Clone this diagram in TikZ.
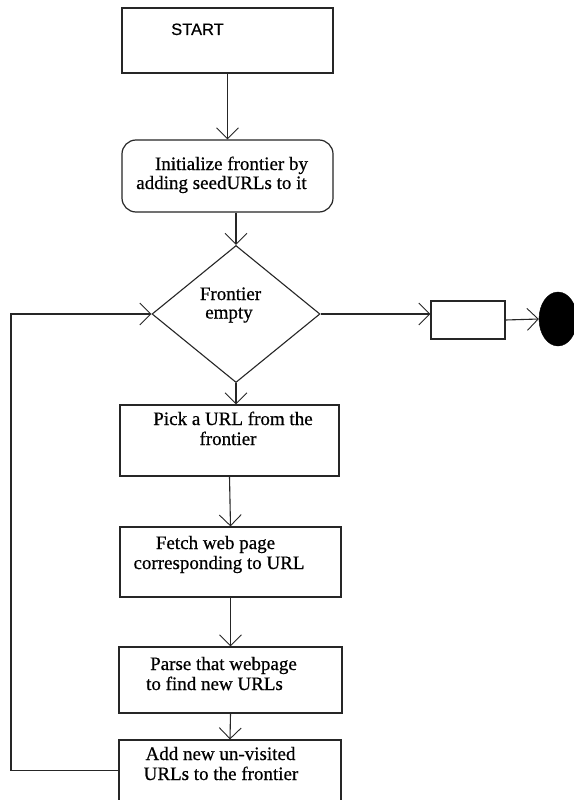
\documentclass[tikz,border=0pt]{standalone}
\usepackage{fontspec}
\setmainfont{Liberation Serif}
\newfontfamily\lblfont{Liberation Serif}[FakeBold=0.6]
\newfontfamily\arialfont{Liberation Sans}[FakeBold=0.5]
\usetikzlibrary{arrows.meta,shapes.geometric,calc}
\begin{document}
\begin{tikzpicture}[x=1pt,y=-1pt,
  box/.style={draw=black!85,line width=1.2pt,rectangle,inner sep=0pt},
  lbl/.style={inner sep=0pt,anchor=base,font=\lblfont\fontsize{19}{20}\selectfont},
  arr/.style={draw=black!85,line width=1.1pt,-{Straight Barb[length=11pt,width=22pt,line width=0.9pt]}},
  ln/.style={draw=black!85,line width=1.1pt}]
\useasboundingbox[fill=white] (0,0) rectangle (573,800);

% shapes
\node[box,minimum width=211pt,minimum height=65pt] (start) at (227.5,40.5) {};
\node[box,rounded corners=14pt,minimum width=211pt,minimum height=72pt] (init) at (227.5,176) {};
\node[draw=black!85,line width=1.1pt,diamond,inner sep=0pt,minimum width=168pt,minimum height=137pt] (dia) at (236,314) {};
\node[box,minimum width=74pt,minimum height=38pt] (stop) at (468,320) {};
\node[ellipse,fill=black,draw=black,inner sep=0pt,minimum width=38pt,minimum height=54pt] (term) at (558,319) {};
\node[box,minimum width=219pt,minimum height=71pt] (pick) at (229.5,440.5) {};
\node[box,minimum width=221pt,minimum height=70pt] (fetch) at (230.5,562) {};
\node[box,minimum width=223pt,minimum height=66pt] (parse) at (230.5,680) {};
\node[box,minimum width=222pt,minimum height=72pt] (add) at (230,776) {};

% texts
\node[inner sep=0pt,anchor=base,font=\arialfont\fontsize{16.5}{18}\selectfont] (tstart) at (197.5,35) {START};
\node[lbl] (ti1) at (231.5,170) {Initialize frontier by};
\node[lbl] (ti2) at (221.5,189) {adding seedURLs to it};
\node[lbl] (td1) at (230.5,300) {Frontier};
\node[lbl] (td2) at (229,318.5) {empty};
\node[lbl] (tp1) at (233,425) {Pick a URL from the};
\node[lbl] (tp2) at (228,445) {frontier};
\node[lbl] (tf1) at (215.5,549) {Fetch web page};
\node[lbl] (tf2) at (219,569) {corresponding to URL};
\node[lbl] (tr1) at (223.5,670) {Parse that webpage};
\node[lbl] (tr2) at (214.5,690) {to find new URLs};
\node[lbl] (ta1) at (220.5,760) {Add new un-visited};
\node[lbl] (ta2) at (221,780) {URLs to the frontier};

% connectors
\draw[arr] (start.south) -- (init.north);
\draw[arr] (init.south -| dia.north) -- (dia.north);
\draw[arr] (dia.south) -- (dia.south |- pick.north);
\draw[arr] (pick.south) -- (fetch.north);
\draw[arr] (fetch.south) -- (parse.north);
\draw[arr] (parse.south) -- (add.north);
\draw[arr] (dia.east) -- (dia.east -| stop.west);
\draw[arr] (stop.east) -- (term.west);
\coordinate (lp) at (11,0);
\coordinate (ast) at ($(add.north west)+(0,31)$);
\draw[arr] (ast) -- (ast -| lp) -- (lp |- dia.west) -- (dia.west);
\end{tikzpicture}
\end{document}
